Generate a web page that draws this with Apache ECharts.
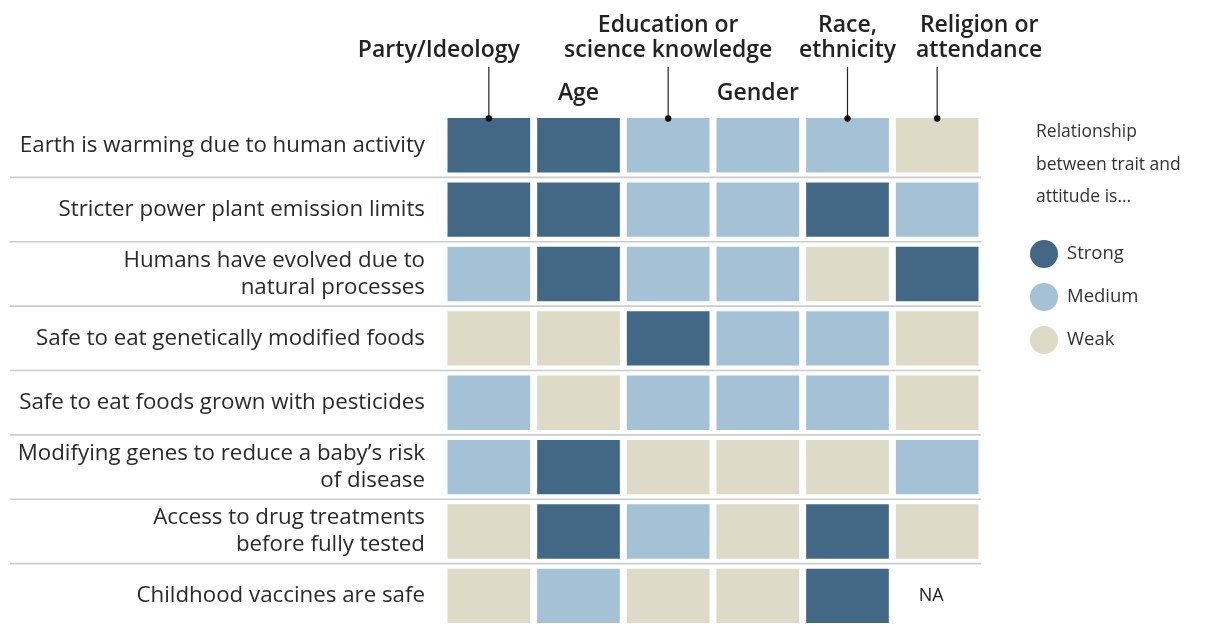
<!DOCTYPE html>
<html>
<head>
<meta charset="utf-8">
<script src="https://cdn.jsdelivr.net/npm/echarts@6/dist/echarts.min.js"></script>
<style>
  html, body { margin: 0; padding: 0; background: #ffffff; }
  #chart { width: 1211px; height: 628px; }
</style>
</head>
<body>
<div id="chart"></div>
<script>
// ---- Data ----
const traits = ['Party/Ideology', 'Age', 'Education or\nscience knowledge', 'Gender', 'Race,\nethnicity', 'Religion or\nattendance'];
const attitudes = [
  'Earth is warming due to human activity',
  'Stricter power plant emission limits',
  'Humans have evolved due to\nnatural processes',
  'Safe to eat genetically modified foods',
  'Safe to eat foods grown with pesticides',
  "Modifying genes to reduce a baby\u2019s risk\nof disease",
  'Access to drug treatments\nbefore fully tested',
  'Childhood vaccines are safe'
];
const levels = ['Strong', 'Medium', 'Weak'];

const earthWarming     = ['Strong', 'Strong', 'Medium', 'Medium', 'Medium', 'Weak'];
const powerPlantLimits = ['Strong', 'Strong', 'Medium', 'Medium', 'Strong', 'Medium'];
const humansEvolved    = ['Medium', 'Strong', 'Medium', 'Medium', 'Weak',   'Strong'];
const gmFoods          = ['Weak',   'Weak',   'Strong', 'Medium', 'Medium', 'Weak'];
const pesticideFoods   = ['Medium', 'Weak',   'Medium', 'Medium', 'Medium', 'Weak'];
const modifyingGenes   = ['Medium', 'Strong', 'Weak',   'Weak',   'Weak',   'Medium'];
const drugTreatments   = ['Weak',   'Strong', 'Medium', 'Weak',   'Strong', 'Weak'];
const childVaccines    = ['Weak',   'Medium', 'Weak',   'Weak',   'Strong', 'NA'];

const strengthRows = [earthWarming, powerPlantLimits, humansEvolved, gmFoods, pesticideFoods, modifyingGenes, drugTreatments, childVaccines];
const calloutTraits = [0, 2, 4, 5];

// ---- Styles ----
const levelColors = { Strong: '#426885', Medium: '#a5c1d6', Weak: '#dedac8' };
const FONT = '"Open Sans", "Liberation Sans", Arial, sans-serif';

function cellsFor(level) {
  const out = [];
  strengthRows.forEach((row, r) => row.forEach((v, c) => { if (v === level) out.push([c, r]); }));
  return out;
}

function renderCell(params, api) {
  const p = api.coord([api.value(0), api.value(1)]);
  const s = api.size([1, 1]);
  const w = s[0] - 7, h = s[1] - 10;
  return {
    type: 'rect',
    shape: { x: p[0] - w / 2, y: p[1] - h / 2, width: w, height: h },
    style: { fill: api.visual('color') }
  };
}

const cellSeries = levels.map(level => ({
  type: 'custom',
  name: level,
  coordinateSystem: 'cartesian2d',
  itemStyle: { color: levelColors[level] },
  data: cellsFor(level),
  renderItem: renderCell,
  silent: true,
  z: 3
}));

const separatorSeries = {
  type: 'custom',
  name: 'separators',
  coordinateSystem: 'cartesian2d',
  data: attitudes.slice(1).map((a, i) => [0, i + 1]),
  silent: true,
  z: 1,
  renderItem: function (params, api) {
    const p = api.coord([0, api.value(1)]);
    const s = api.size([1, 1]);
    const y = p[1] - s[1] / 2;
    const cs = params.coordSys;
    return {
      type: 'line',
      shape: { x1: 10, y1: y, x2: cs.x + cs.width - 1, y2: y },
      style: { stroke: '#cccccc', lineWidth: 1.6 }
    };
  }
};

const calloutSeries = {
  type: 'custom',
  name: 'callouts',
  coordinateSystem: 'cartesian2d',
  data: calloutTraits.map(c => [c, 0]),
  silent: true,
  z: 5,
  renderItem: function (params, api) {
    const p = api.coord([api.value(0), 0]);
    const s = api.size([1, 1]);
    const top = p[1] - (s[1] - 10) / 2;
    return {
      type: 'group',
      children: [
        { type: 'line', shape: { x1: p[0], y1: top - 51, x2: p[0], y2: top }, style: { stroke: '#222', lineWidth: 1.2 } },
        { type: 'circle', shape: { cx: p[0], cy: top + 0.5, r: 3.2 }, style: { fill: '#111' } }
      ]
    };
  }
};

const naSeries = {
  type: 'custom',
  name: 'NA',
  coordinateSystem: 'cartesian2d',
  data: cellsFor('NA'),
  silent: true,
  z: 4,
  renderItem: function (params, api) {
    const p = api.coord([api.value(0), api.value(1)]);
    return {
      type: 'text',
      style: { x: p[0] - 6, y: p[1], text: 'NA', fill: '#222', font: '18px ' + FONT, align: 'center', verticalAlign: 'middle' }
    };
  }
};

const chart = echarts.init(document.getElementById('chart'), null, { renderer: 'canvas' });

chart.setOption({
  backgroundColor: '#ffffff',
  animation: false,
  title: {
    text: 'Relationship\nbetween trait and\nattitude is...',
    left: 1036,
    top: 116,
    padding: 0,
    textStyle: { fontFamily: FONT, fontSize: 17.5, fontWeight: 'normal', color: '#333', lineHeight: 32.5 }
  },
  legend: {
    data: levels,
    orient: 'vertical',
    left: 1030,
    top: 240,
    padding: 0,
    icon: 'circle',
    itemWidth: 28,
    itemHeight: 28,
    itemGap: 15,
    selectedMode: false,
    textStyle: { fontFamily: FONT, fontSize: 18.5, color: '#333', padding: [0, 0, 0, 4] }
  },
  grid: { left: 444, top: 113, width: 538, height: 520 },
  xAxis: {
    type: 'category',
    data: traits,
    position: 'top',
    axisLine: { show: false },
    axisTick: { show: false },
    splitLine: { show: false },
    axisLabel: {
      interval: 0,
      margin: 7,
      formatter: function (value, idx) {
        const lines = value.split('\n');
        let style = 'h';
        if (idx === 0) style = 'hl';
        if (idx === 5) style = 'hr';
        const body = lines.map(l => '{' + style + '|' + l + '}').join('\n');
        if (calloutTraits.indexOf(idx) >= 0) return body + '\n{sp| }';
        return body;
      },
      rich: {
        h:  { fontFamily: FONT, fontSize: 23, fontWeight: 600, color: '#222', lineHeight: 25 },
        hl: { fontFamily: FONT, fontSize: 23, fontWeight: 600, color: '#222', lineHeight: 25, padding: [0, 100, 0, 0] },
        hr: { fontFamily: FONT, fontSize: 23, fontWeight: 600, color: '#222', lineHeight: 25, padding: [0, 0, 0, 84] },
        sp: { fontSize: 10, lineHeight: 43, height: 43 }
      }
    }
  },
  yAxis: {
    type: 'category',
    data: attitudes,
    inverse: true,
    axisLine: { show: false },
    axisTick: { show: false },
    splitLine: { show: false },
    axisLabel: {
      interval: 0,
      margin: 19,
      fontFamily: FONT,
      fontSize: 22.3,
      lineHeight: 27,
      color: '#2a2a2a',
      align: 'right'
    }
  },
  series: [separatorSeries].concat(cellSeries, [calloutSeries, naSeries])
});
</script>
</body>
</html>
